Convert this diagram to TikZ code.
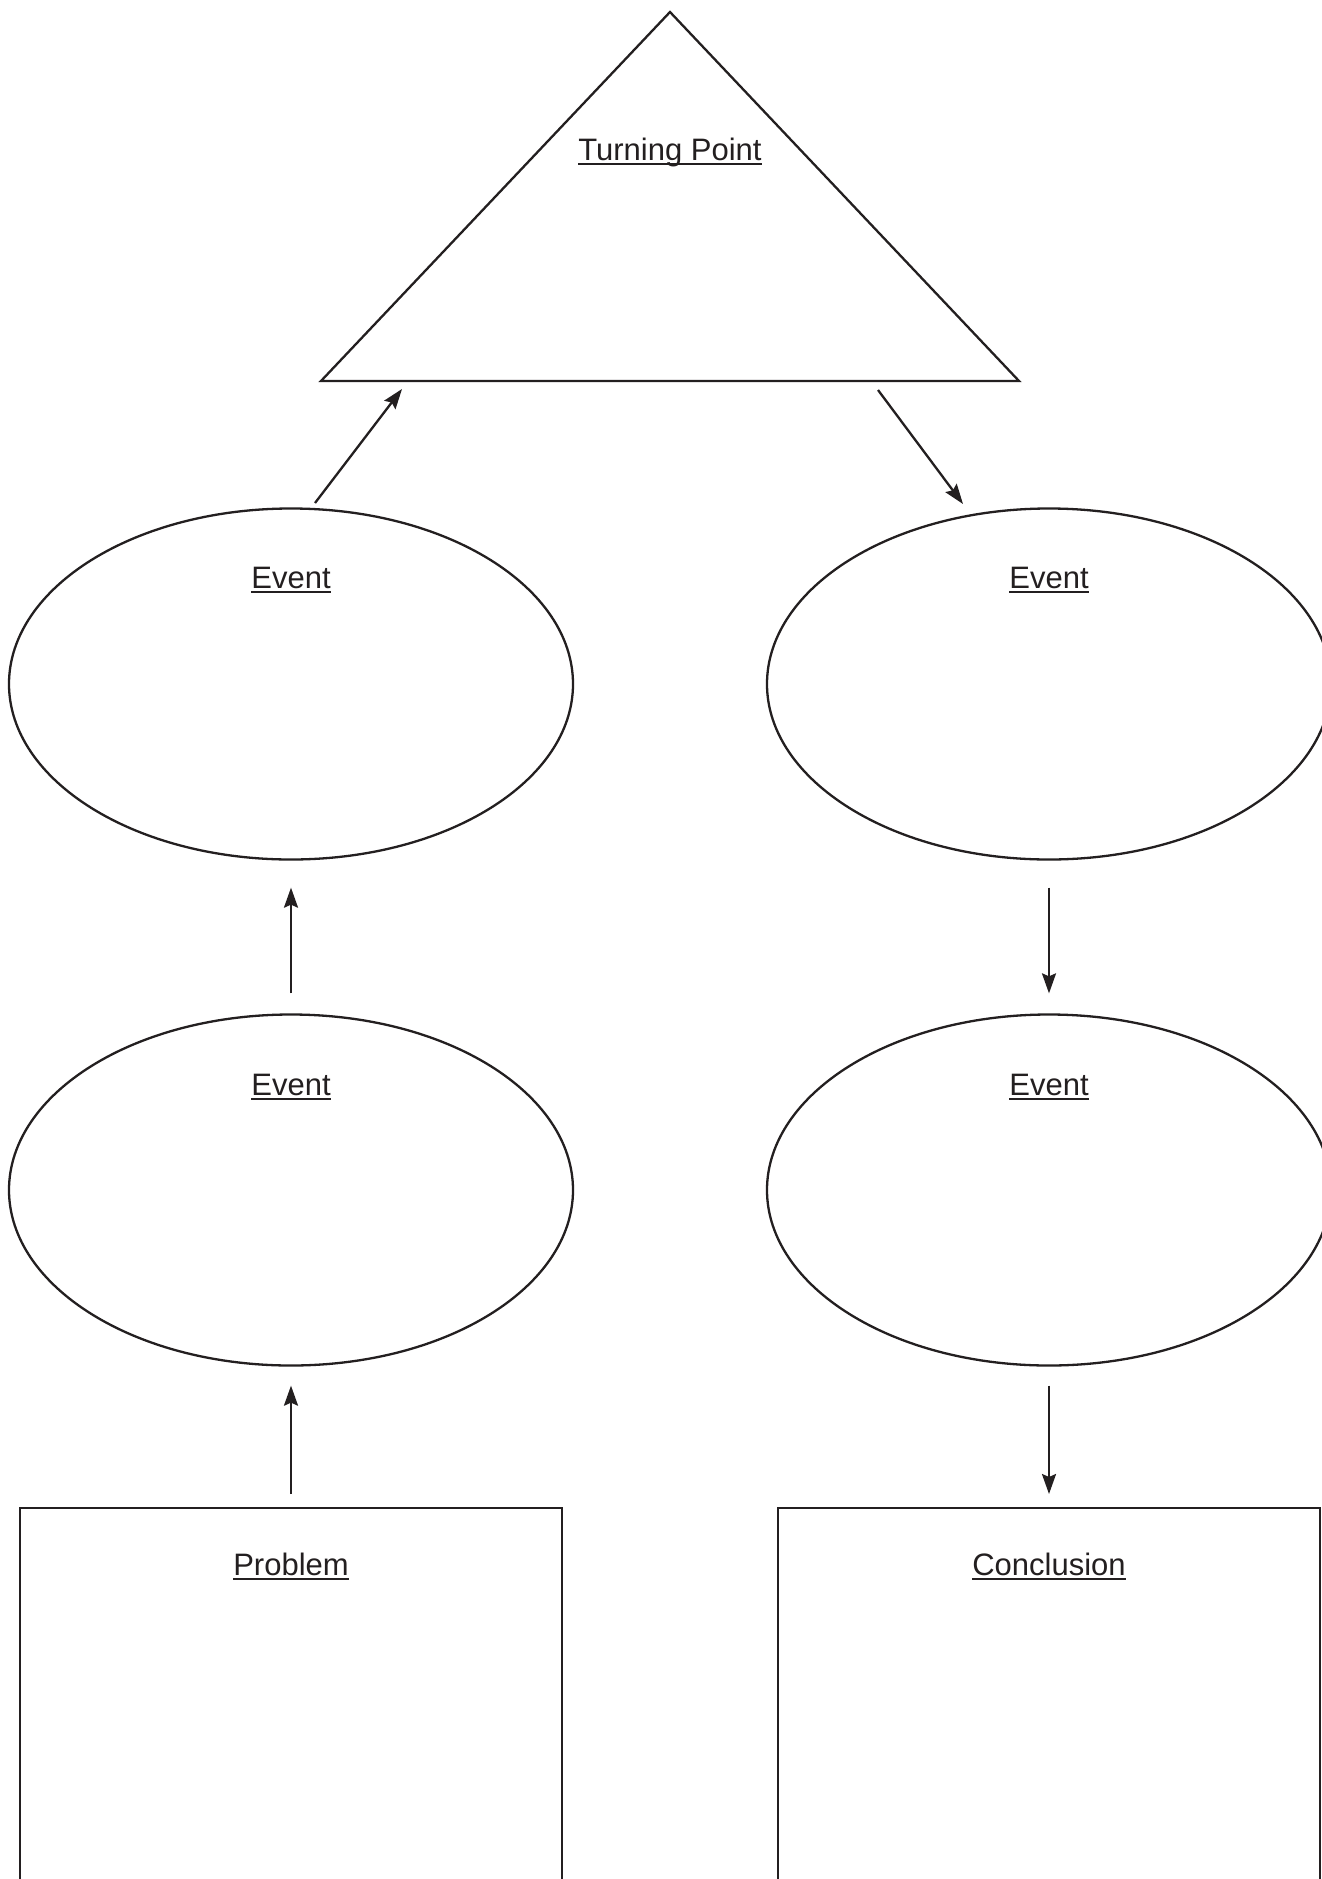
\documentclass[tikz,border=0pt]{standalone}
\usepackage{fontspec}
\setmainfont{Liberation Sans}
\usetikzlibrary{shapes.geometric,arrows.meta}
\definecolor{ink}{HTML}{231F20}
\newcommand\myul[1]{\setbox0\hbox{#1}\rlap{\rule[-5pt]{\wd0}{2pt}}\box0}
\begin{document}
\begin{tikzpicture}[x=1pt,y=-1pt,
  line width=2.3pt, draw=ink,
  oval/.style={draw=ink, ellipse, minimum width=564pt, minimum height=351pt, inner sep=0pt},
  box/.style={draw=ink, rectangle, minimum width=542pt, minimum height=420pt, inner sep=0pt, anchor=north},
  ttl/.style={anchor=base, inner sep=0pt, text=ink, font=\fontsize{31pt}{36pt}\selectfont},
  arr/.style={draw=ink, line width=2.3pt, -{Stealth[length=20pt,width=14pt,inset=3pt]}}]
\fill[white] (0,0) rectangle (1322,1879);
\clip (0,0) rectangle (1322,1879);
% triangle
\coordinate (apex) at (670,12);
\coordinate (bl) at (321,381);
\coordinate (br) at (1019,381);
\draw[ink] (apex) -- (bl) -- (br) -- cycle;
\node[ttl] (tp) at (670,160) {\myul{Turning Point}};
% ellipses
\node[oval] (e1) at (291,684) {};
\node[oval] (e2) at (291,1190) {};
\node[oval] (e3) at (1049,684) {};
\node[oval] (e4) at (1049,1190) {};
\node[ttl] (t1) at (291,588) {\myul{Event}};
\node[ttl] (t2) at (291,1095) {\myul{Event}};
\node[ttl] (t3) at (1049,588) {\myul{Event}};
\node[ttl] (t4) at (1049,1095) {\myul{Event}};
% boxes
\node[box] (prob) at (291,1507) {};
\node[box] (conc) at (1049,1507) {};
\node[ttl] (tprob) at (291,1575) {\myul{Problem}};
\node[ttl] (tconc) at (1049,1575) {\myul{Conclusion}};
% connectors
\coordinate (a1s) at (315,503);
\coordinate (a1e) at (402,389);
\coordinate (a2s) at (878,390);
\coordinate (a2e) at (963,504);
\draw[arr] (a1s) -- (a1e);
\draw[arr] (a2s) -- (a2e);
\draw[arr, shorten <=13pt, shorten >=19pt] (prob.north) -- (e2.south);
\draw[arr, shorten <=20pt, shorten >=27pt] (e2.north) -- (e1.south);
\draw[arr, shorten <=27pt, shorten >=20pt] (e3.south) -- (e4.north);
\draw[arr, shorten <=19pt, shorten >=13pt] (e4.south) -- (conc.north);
\end{tikzpicture}
\end{document}
